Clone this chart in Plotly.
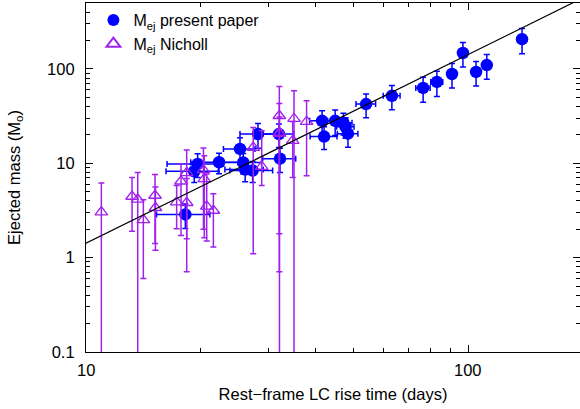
import math
import plotly.graph_objects as go

# ---- data: present paper (rise time [days], ejected mass [Msun], symmetric errors)
p_x = [18.2, 19.2, 19.6, 22.3, 25.3, 25.8, 26.1, 27.3, 28.2, 32.0, 32.2, 41.5, 42.0,
       44.9, 47.2, 47.8, 48.5, 54.1, 63.2, 76.3, 82.9, 90.8, 97.0, 105.0, 112.0, 138.5]
p_y = [2.87, 8.24, 9.86, 10.25, 14.2, 10.2, 8.58, 8.37, 20.4, 20.4, 11.2, 28.2, 19.2,
       28.2, 26.9, 24.4, 20.6, 42.4, 51.9, 63.0, 72.9, 88.5, 147.6, 93.0, 110.0, 207.0]
p_xerr = [2.9, 3.0, 3.3, 3.5, 2.4, 3.0, 3.0, 3.5, 2.9, 3.0, 3.2, 3.0, 3.4,
          2.0, 2.5, 2.5, 3.0, 3.2, 3.2, 3.3, 3.0, 1.5, 1.5, 1.0, 1.0, 0.8]
p_yerr = [0.83, 2.0, 2.8, 2.5, 4.5, 2.5, 2.2, 2.1, 6.0, 5.7, 3.2, 7.8, 5.2,
          8.5, 7.0, 6.0, 5.8, 12.0, 15.0, 18.7, 21.7, 25.7, 43.0, 27.0, 32.0, 62.0]

# ---- data: Nicholl (value, upper and lower ends of the error bar; 0.05 = below axis)
n_x = [10.97, 13.2, 13.66, 14.13, 15.16, 15.2, 17.27, 17.73, 18.35, 18.35, 20.3,
       20.4, 20.7, 21.55, 27.4, 28.84, 32.07, 32.07, 32.1, 35.04, 34.77, 37.8]
n_y = [3.04, 4.45, 4.14, 2.52, 4.56, 3.38, 3.87, 6.45, 7.93, 3.82, 8.5,
       6.83, 3.49, 3.16, 14.7, 9.23, 31.9, 21.1, 20.6, 29.7, 17.4, 27.6]
n_hi = [6.2, 7.07, 8.0, 4.1, 7.6, 5.6, 5.8, 9.86, 13.8, 6.9, 14.5,
        12.0, 7.7, 4.76, 24.0, 22.1, 65.0, 43.0, 31.0, 58.6, 27.7, 46.0]
n_lo = [0.05, 1.91, 0.05, 0.60, 1.41, 1.2, 2.03, 1.72, 1.59, 0.71, 2.0,
        1.63, 1.5, 1.30, 1.10, 5.8, 0.71, 1.79, 0.05, 0.05, 7.07, 7.4]

# ---- fit line end points
fit_x = [10, 200]
fit_y = [1.42, 568]

# ---- ticks
x_ticks = [10, 100]
x_ticktext = ["10", "100"]
x_minor = [20, 30, 40, 50, 60, 70, 80, 90, 200]
y_ticks = [0.1, 1, 10, 100]
y_ticktext = ["0.1", "1", "10", "100"]
y_minor = [0.2, 0.3, 0.4, 0.5, 0.6, 0.7, 0.8, 0.9, 2, 3, 4, 5, 6, 7, 8, 9,
           20, 30, 40, 50, 60, 70, 80, 90, 200, 300, 400, 500]

BLUE = "#0000ff"
PURPLE = "#a020f0"
FONT = "Liberation Sans, Arial, sans-serif"
FS = 16.5

fig = go.Figure()

fig.add_trace(go.Scatter(
    x=p_x, y=p_y, mode="markers",
    name="M<sub>ej</sub> present paper",
    marker=dict(symbol="circle", size=12.5, color=BLUE),
    error_x=dict(type="data", array=p_xerr, color=BLUE, thickness=1.5, width=3),
    error_y=dict(type="data", array=p_yerr, color=BLUE, thickness=1.5, width=3),
))

n_plus = [h - v for h, v in zip(n_hi, n_y)]
n_minus = [v - l for v, l in zip(n_y, n_lo)]
fig.add_trace(go.Scatter(
    x=n_x, y=n_y, mode="markers",
    name="M<sub>ej</sub> Nicholl",
    marker=dict(symbol="triangle-up-open", size=11, color=PURPLE,
                line=dict(width=1.3, color=PURPLE)),
    error_y=dict(type="data", symmetric=False, array=n_plus, arrayminus=n_minus,
                 color=PURPLE, thickness=1.5, width=3),
))

fig.add_trace(go.Scatter(
    x=fit_x, y=fit_y, mode="lines", showlegend=False,
    line=dict(color="black", width=1.2),
))

axis_common = dict(
    type="log", showgrid=False, zeroline=False,
    showline=True, linecolor="black", linewidth=1.2, mirror="allticks",
    ticks="inside", ticklen=7, tickwidth=1, tickcolor="black",
    tickfont=dict(family=FONT, size=FS, color="black"),
)

fig.update_xaxes(
    **axis_common,
    range=[1, 2.2932],
    tickmode="array", tickvals=x_ticks, ticktext=x_ticktext,
    showticklabels=False,
    minor=dict(tickmode="array", tickvals=x_minor, ticks="inside", ticklen=4,
               tickcolor="black", showgrid=False),
    title=dict(text="Rest\u2212frame LC rise time (days)",
               font=dict(family=FONT, size=FS, color="black"), standoff=36),
)
fig.update_yaxes(
    **axis_common,
    range=[-1, 2.699],
    tickmode="array", tickvals=y_ticks, ticktext=y_ticktext,
    ticklabelstandoff=7,
    minor=dict(tickmode="array", tickvals=y_minor, ticks="inside", ticklen=4,
               tickcolor="black", showgrid=False),
    title=dict(text="Ejected mass (M<sub>o</sub>)",
               font=dict(family=FONT, size=FS, color="black"), standoff=22),
)

# x tick labels placed just below the axis line, at the tick values (log axis -> log10 coords)
for v, t in zip(x_ticks, x_ticktext):
    fig.add_annotation(x=math.log10(v), xref="x", y=0, yref="paper", text=t,
                       showarrow=False, xanchor="center", yanchor="top", yshift=-7,
                       font=dict(family=FONT, size=FS, color="black"))

fig.update_layout(
    width=580, height=409,
    margin=dict(l=86, r=0, t=3, b=57, autoexpand=False),
    paper_bgcolor="white", plot_bgcolor="white",
    font=dict(family=FONT, size=FS, color="black"),
    legend=dict(x=0.015, y=1.0, xanchor="left", yanchor="top",
                bgcolor="rgba(0,0,0,0)", font=dict(family=FONT, size=16),
                tracegroupgap=0, itemsizing="constant"),
    showlegend=True,
)

fig.write_html("out.html")
